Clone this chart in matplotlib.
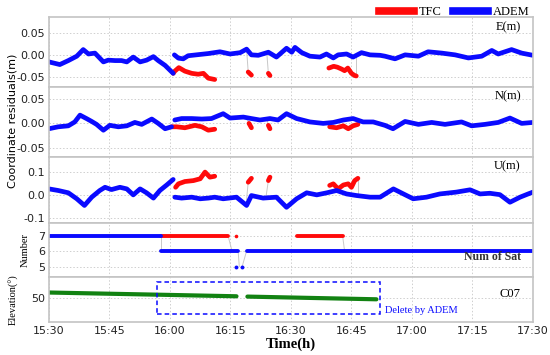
#!/usr/bin/env python3
"""Coordinate residuals of TFC vs ADEM, with satellite count and C07 elevation."""

import matplotlib
matplotlib.use("Agg")
import matplotlib.pyplot as plt
from matplotlib.lines import Line2D
from matplotlib.patches import Rectangle

# time axis: minutes after 15:30
TICK_MIN = [0, 15, 30, 45, 60, 75, 90, 105, 120]
TICK_LBL = ["15:30", "15:45", "16:00", "16:15", "16:30", "16:45", "17:00", "17:15", "17:30"]

# ---- E residuals (m)
E_ADEM_T = [
    [0, 2.7, 4.8, 6.9, 8.5, 9.8, 11.4, 13.5, 14.7, 16.4, 18.0, 19.3, 20.9, 22.6, 24.2, 25.9, 27.1, 28.8, 30.8],
    [31.1, 32.1, 33.3, 34.5, 37.0, 39.5, 42.4, 44.9, 47.4, 49.0, 50.2, 51.9, 54.4, 56.4, 58.9, 60.2, 61.0,
     62.7, 64.7, 67.2, 68.8, 70.5, 71.7, 73.8, 75.4, 77.5, 79.6, 82.1, 83.3, 85.8, 88.3, 91.6, 94.0, 97.4,
     100.7, 104.0, 107.3, 109.8, 111.4, 114.7, 117.2, 120],
]
E_ADEM_V = [
    [-0.016, -0.022, -0.013, -0.003, 0.012, 0.002, 0.004, -0.016, -0.012, -0.013, -0.013, -0.016, -0.005,
     -0.016, -0.012, -0.004, -0.013, -0.024, -0.042],
    [0.0, -0.0075, -0.009, -0.002, 0.0005, 0.003, 0.007, 0.002, 0.005, 0.013, 0.0, -0.001, 0.006, -0.005,
     0.015, 0.006, 0.017, 0.005, -0.003, -0.005, 0.002, -0.007, 0.0, 0.002, -0.005, 0.005, 0.0, -0.001,
     -0.003, -0.009, 0.0, -0.003, 0.007, 0.004, 0.0, -0.007, -0.003, 0.010, 0.002, 0.012, 0.004, -0.001],
]
E_TFC_T = [
    [30.8, 31.2, 32.2, 33.7, 35.4, 37.0, 38.3, 39.5, 41.1],
    [49.4, 50.2],
    [54.4, 54.8],
    [69.4, 70.6, 71.5, 72.5, 73.3, 74.1, 75.0, 75.8, 76.2],
]
E_TFC_V = [
    [-0.042, -0.037, -0.029, -0.037, -0.042, -0.044, -0.042, -0.053, -0.056],
    [-0.039, -0.046],
    [-0.042, -0.047],
    [-0.030, -0.026, -0.028, -0.032, -0.036, -0.030, -0.042, -0.047, -0.048],
]

# ---- N residuals (m)
N_ADEM_T = [
    [0, 2.3, 4.8, 6.4, 7.7, 9.3, 10.6, 11.8, 13.5, 15.1, 17.2, 19.3, 21.3, 23.0, 25.5, 27.1, 28.8, 30.4],
    [31.2, 32.9, 35.4, 37.9, 40.3, 43.2, 44.9, 48.2, 50.2, 52.3, 54.8, 56.8, 58.9, 61.4, 64.7, 68.0, 70.5,
     73.0, 75.4, 77.9, 80.4, 83.3, 85.3, 88.3, 91.6, 94.9, 98.2, 102.3, 104.8, 108.1, 111.4, 114.3, 117.2,
     120],
]
N_ADEM_V = [
    [-0.011, -0.007, -0.005, 0.003, 0.017, 0.010, 0.004, -0.002, -0.014, -0.004, -0.007, -0.005, 0.002,
     -0.002, 0.009, 0.0, -0.011, -0.007],
    [0.007, 0.010, 0.010, 0.009, 0.010, 0.020, 0.011, 0.013, 0.010, 0.007, 0.010, 0.007, 0.020, 0.010,
     0.003, 0.0, 0.002, 0.007, 0.010, 0.003, 0.003, -0.004, -0.011, 0.004, -0.002, 0.002, -0.002, 0.003,
     -0.005, -0.002, 0.002, 0.011, 0.0, 0.002],
]
N_TFC_T = [
    [30.4, 31.7, 33.7, 36.2, 37.9, 39.5, 41.1],
    [49.6, 50.2],
    [54.4, 54.8],
    [69.6, 71.3, 73.0, 74.2, 75.4, 76.6],
]
N_TFC_V = [
    [-0.007, -0.007, -0.009, -0.004, -0.007, -0.014, -0.012],
    [0.0, -0.009],
    [-0.004, -0.011],
    [-0.007, -0.009, -0.005, -0.011, -0.005, -0.002],
]

# ---- U residuals (m)
U_ADEM_T = [
    [0, 2.3, 4.8, 6.9, 8.8, 10.6, 12.6, 13.9, 15.5, 17.6, 19.3, 20.9, 22.6, 24.2, 25.9, 27.5, 29.2, 30.8],
    [31.2, 32.9, 35.4, 37.5, 39.5, 41.1, 43.2, 46.5, 49.0, 50.2, 53.1, 56.4, 58.9, 61.4, 63.9, 66.4, 68.9,
     71.3, 73.8, 76.3, 79.6, 82.1, 85.4, 87.9, 90.3, 93.6, 96.9, 101.0, 104.4, 106.9, 109.3, 111.8, 114.3,
     116.8, 118.8, 120],
]
U_ADEM_V = [
    [0.026, 0.019, 0.009, -0.017, -0.046, -0.010, 0.019, 0.033, 0.023, 0.033, 0.026, 0.0, 0.026, 0.009,
     -0.014, 0.019, 0.043, 0.067],
    [-0.010, -0.014, -0.010, -0.017, -0.014, -0.010, -0.017, -0.010, -0.046, -0.003, -0.014, -0.010,
     -0.054, -0.017, 0.009, 0.0, 0.009, 0.019, 0.004, -0.003, -0.010, -0.010, 0.026, 0.004, -0.017,
     -0.010, 0.004, 0.012, 0.022, 0.004, 0.007, 0.001, -0.032, -0.010, 0.004, 0.012],
]
U_TFC_T = [
    [31.4, 32.1, 33.7, 35.8, 37.5, 38.7, 39.9, 41.1],
    [49.4, 50.2],
    [54.4, 54.8],
    [69.6, 70.5, 71.7, 73.0, 74.2, 75.0, 75.8, 76.6],
]
U_TFC_V = [
    [0.033, 0.048, 0.058, 0.062, 0.070, 0.099, 0.077, 0.081],
    [0.055, 0.072],
    [0.062, 0.077],
    [0.041, 0.048, 0.026, 0.043, 0.048, 0.033, 0.062, 0.072],
]

# ---- number of satellites
SAT_ADEM_T = [[0, 27.7], [27.7, 46.9], [49.0, 120]]
SAT_ADEM_V = [[7, 7], [6, 6], [6, 6]]
SAT_ADEM_DOT_T = [46.5, 47.9]
SAT_ADEM_DOT_V = [5, 5]
SAT_TFC_T = [[27.7, 44.4], [61.6, 72.8]]
SAT_TFC_V = [[7, 7], [7, 7]]
SAT_TFC_DOT_T = [46.3]
SAT_TFC_DOT_V = [7]

# ---- C07 elevation (deg)
ELEV_T = [[0, 15, 30, 46.5], [49.2, 65, 81.2]]
ELEV_V = [[51.7, 51.3, 50.9, 50.45], [50.35, 49.9, 49.45]]

# ---- thin links where the series jump
E_LINKS = [([49.0, 49.4], [0.013, -0.039]), ([54.0, 54.4], [0.006, -0.042]), ([76.2, 76.2], [-0.048, 0.0])]
N_LINKS = [([49.0, 49.6], [0.012, 0.0]), ([54.0, 54.4], [0.010, -0.004])]
U_LINKS = [([49.0, 49.4], [-0.02, 0.055]), ([53.8, 54.4], [-0.01, 0.062]), ([76.6, 76.6], [0.072, -0.003])]
SAT_LINKS = [([27.7, 27.7], [7, 6]), ([44.4, 45.4], [7, 6]), ([46.9, 47.2], [6, 5]),
             ([47.9, 49.0], [5, 6]), ([72.8, 73.3], [7, 6])]

BLUE = "#0a0aff"
RED = "#ff0a0a"
GREEN = "#128212"
LINK = "#c8c8c8"
SERIF = "Liberation Serif"


def style_axes(ax):
    ax.set_xlim(0, 120)
    ax.set_xticks(TICK_MIN)
    ax.grid(True, color="#cfcfcf", linestyle=(0, (1.5, 2)), linewidth=0.7)
    ax.tick_params(length=0, labelsize=8, pad=3, labelcolor="#222222")
    for s in ax.spines.values():
        s.set_color("#c4c4c4")
        s.set_linewidth(1.2)
    ax.set_axisbelow(True)


def draw_segments(ax, ts, vs, color, lw=3.4):
    for t, v in zip(ts, vs):
        ax.plot(t, v, color=color, lw=lw, solid_capstyle="round", solid_joinstyle="round")


def draw_links(ax, links):
    for t, v in links:
        ax.plot(t, v, color=LINK, lw=0.7, zorder=1)


fig = plt.figure(figsize=(5.5, 3.55), dpi=100)
L, W = 0.089, 0.880
ax_e = fig.add_axes([L, 0.755, W, 0.197])
ax_n = fig.add_axes([L, 0.558, W, 0.197], sharex=ax_e)
ax_u = fig.add_axes([L, 0.372, W, 0.186], sharex=ax_e)
ax_s = fig.add_axes([L, 0.220, W, 0.152], sharex=ax_e)
ax_el = fig.add_axes([L, 0.093, W, 0.127], sharex=ax_e)

for ax in (ax_e, ax_n, ax_u, ax_s, ax_el):
    style_axes(ax)
for ax in (ax_e, ax_n, ax_u, ax_s):
    ax.tick_params(labelbottom=False)

# residual panels
panels = [
    (ax_e, E_ADEM_T, E_ADEM_V, E_TFC_T, E_TFC_V, E_LINKS, (-0.073, 0.086), [-0.05, 0.0, 0.05], "%.2f", "E(m)"),
    (ax_n, N_ADEM_T, N_ADEM_V, N_TFC_T, N_TFC_V, N_LINKS, (-0.069, 0.075), [-0.05, 0.0, 0.05], "%.2f", "N(m)"),
    (ax_u, U_ADEM_T, U_ADEM_V, U_TFC_T, U_TFC_V, U_LINKS, (-0.122, 0.165), [-0.1, 0.0, 0.1], "%.1f", "U(m)"),
]
for ax, at, av, tt, tv, links, ylim, yt, fmt, name in panels:
    draw_links(ax, links)
    draw_segments(ax, tt, tv, RED)
    draw_segments(ax, at, av, BLUE)
    ax.set_ylim(*ylim)
    ax.set_yticks(yt)
    ax.set_yticklabels([fmt % v for v in yt])
    ax.text(0.975, 0.86, name, transform=ax.transAxes, ha="right", va="center",
            fontsize=9, family=SERIF)

# satellite count
draw_links(ax_s, SAT_LINKS)
draw_segments(ax_s, SAT_TFC_T, SAT_TFC_V, RED, lw=2.8)
draw_segments(ax_s, SAT_ADEM_T, SAT_ADEM_V, BLUE, lw=2.8)
ax_s.plot(SAT_TFC_DOT_T, SAT_TFC_DOT_V, "o", color=RED, ms=2.6, mew=0)
ax_s.plot(SAT_ADEM_DOT_T, SAT_ADEM_DOT_V, "o", color=BLUE, ms=2.8, mew=0)
ax_s.set_ylim(4.33, 7.82)
ax_s.set_yticks([5, 6, 7])
ax_s.set_ylabel("Number", family=SERIF, fontsize=7.5, labelpad=6)
ax_s.text(0.975, 0.37, "Num of Sat", transform=ax_s.transAxes, ha="right", va="center",
          fontsize=8.5, family=SERIF, fontweight="bold", color="#333333")

# elevation
draw_segments(ax_el, ELEV_T, ELEV_V, GREEN, lw=3.0)
ax_el.set_ylim(41.9, 56.9)
ax_el.set_yticks([50])
ax_el.set_ylabel("Elevation(°)", family=SERIF, fontsize=7.5, labelpad=9)
ax_el.add_patch(Rectangle((26.7, 44.6), 82.0 - 26.7, 55.3 - 44.6, fill=False,
                          edgecolor=BLUE, linestyle=(0, (3, 2)), linewidth=1.1, zorder=5))
ax_el.text(83.3, 45.8, "Delete by ADEM", color=BLUE, fontsize=7.5, family=SERIF, va="center")
ax_el.text(0.975, 0.62, "C07", transform=ax_el.transAxes, ha="right", va="center",
           fontsize=9, family=SERIF)
ax_el.set_xticklabels(TICK_LBL)
ax_el.set_xlabel("Time(h)", family=SERIF, fontsize=10.5, fontweight="bold", labelpad=1)

fig.text(0.022, 0.66, "Coordinate residuals(m)", rotation=90, ha="center", va="center", fontsize=8)

handles = [Line2D([], [], color=RED, lw=5.5), Line2D([], [], color=BLUE, lw=5.5)]
ax_e.legend(handles, ["TFC", "ADEM"], loc="lower right", bbox_to_anchor=(0.995, 0.97), ncol=2,
            frameon=False, handlelength=2.8, handletextpad=0.4, columnspacing=0.9,
            borderaxespad=0.0, borderpad=0.1, prop={"family": SERIF, "size": 9})

fig.savefig("out.png", dpi=100)
